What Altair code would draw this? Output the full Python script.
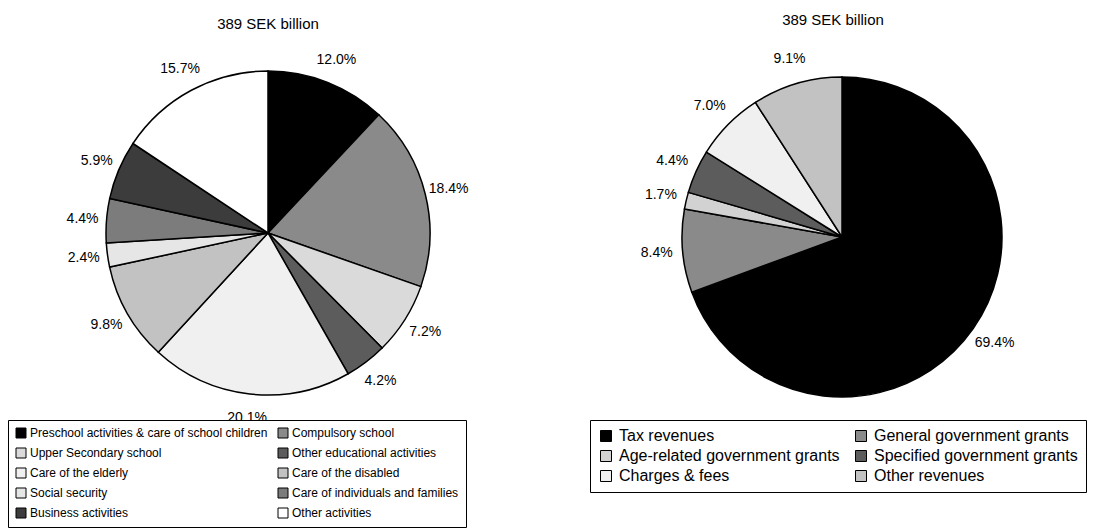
import altair as alt
import pandas as pd

# ---- data ----
title_text = ["389 SEK billion"]

left_categories = [
    "Preschool activities & care of school children",
    "Compulsory school",
    "Upper Secondary school",
    "Other educational activities",
    "Care of the elderly",
    "Care of the disabled",
    "Social security",
    "Care of individuals and families",
    "Business activities",
    "Other activities",
]
left_values = [12.0, 18.4, 7.2, 4.2, 20.1, 9.8, 2.4, 4.4, 5.9, 15.7]
left_colors = ["#000000", "#8a8a8a", "#dadada", "#5c5c5c", "#f0f0f0",
               "#c2c2c2", "#e6e6e6", "#7c7c7c", "#3c3c3c", "#ffffff"]

right_categories = [
    "Tax revenues",
    "General government grants",
    "Age-related government grants",
    "Specified government grants",
    "Charges & fees",
    "Other revenues",
]
right_values = [69.4, 8.4, 1.7, 4.4, 7.0, 9.1]
right_colors = ["#000000", "#8a8a8a", "#d2d2d2", "#5c5c5c", "#f0f0f0", "#c2c2c2"]

FONT = "Liberation Sans"

left_df = pd.DataFrame({"category": left_categories, "value": left_values,
                        "idx": list(range(len(left_values)))})
right_df = pd.DataFrame({"category": right_categories, "value": right_values,
                         "idx": list(range(len(right_values)))})
title_df = pd.DataFrame({"t": title_text})


def column_major(cats, ncols=2):
    # Vega fills legend columns top-to-bottom; reorder so entries read row by row
    return [cats[i] for c in range(ncols) for i in range(c, len(cats), ncols)]


def pie(df, cats, cols, cx, cy, r, label_r, legend):
    base = alt.Chart(df).encode(
        theta=alt.Theta("value:Q", stack=True),
        order=alt.Order("idx:Q"),
    )
    arcs = base.mark_arc(outerRadius=r, stroke="black", strokeWidth=1.5).encode(
        x=alt.value(cx), y=alt.value(cy),
        color=alt.Color("category:N",
                        scale=alt.Scale(domain=cats, range=cols),
                        sort=cats, legend=legend),
    )
    labels = base.transform_calculate(
        label="format(datum.value, '.1f') + '%'"
    ).mark_text(radius=label_r, font=FONT, fontSize=14, color="black",
                align="center", baseline="middle").encode(
        x=alt.value(cx), y=alt.value(cy), text="label:N")
    return arcs, labels


left_legend = alt.Legend(
    title=None, orient="none", legendX=8, legendY=420, columns=2,
    values=column_major(left_categories),
    strokeColor="black", fillColor="white", padding=7,
    symbolType="square", symbolSize=100, symbolStrokeColor="black",
    symbolStrokeWidth=1, labelFont=FONT, labelFontSize=12, labelColor="black",
    rowPadding=6, columnPadding=8, labelLimit=500, labelOffset=3,
)
right_legend = alt.Legend(
    title=None, orient="none", legendX=590, legendY=420, columns=2,
    values=column_major(right_categories),
    strokeColor="black", fillColor="white", padding=8,
    symbolType="square", symbolSize=121, symbolStrokeColor="black",
    symbolStrokeWidth=1, labelFont=FONT, labelFontSize=16, labelColor="black",
    rowPadding=4, columnPadding=13, labelLimit=500, labelOffset=5,
)

l_arcs, l_labels = pie(left_df, left_categories, left_colors, 268, 233, 162, 186, left_legend)
r_arcs, r_labels = pie(right_df, right_categories, right_colors, 842, 237, 160, 186, right_legend)

l_title = alt.Chart(title_df).mark_text(font=FONT, fontSize=15, color="black").encode(
    text="t:N", x=alt.value(268), y=alt.value(24))
r_title = alt.Chart(title_df).mark_text(font=FONT, fontSize=15, color="black").encode(
    text="t:N", x=alt.value(833), y=alt.value(20))

chart = alt.layer(
    l_arcs, l_labels, l_title, r_arcs, r_labels, r_title
).resolve_scale(
    color="independent", theta="independent"
).properties(
    width=1098, height=529, padding=0, autosize="none", background="white"
).configure_view(stroke=None)

chart.save("out.html", embed_options={"renderer": "svg", "actions": False})
